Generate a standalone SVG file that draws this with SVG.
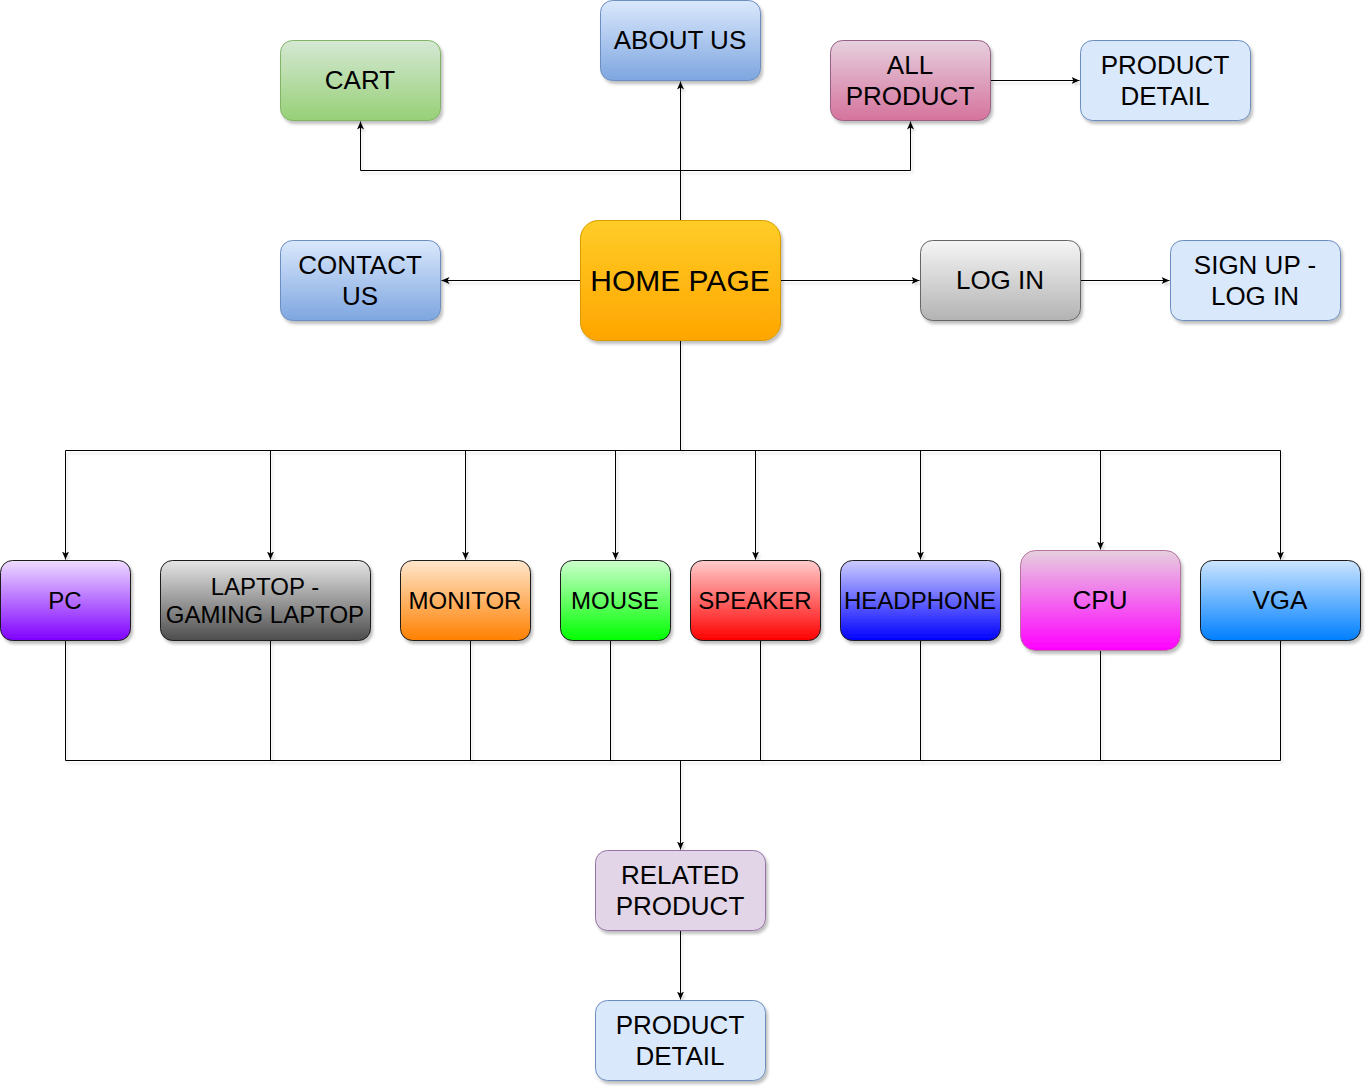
<svg xmlns="http://www.w3.org/2000/svg" width="1372" height="1092" viewBox="0 0 1372 1092">
<defs>
  <filter id="sh" x="-20%" y="-20%" width="140%" height="150%">
    <feDropShadow dx="2" dy="3" stdDeviation="1.6" flood-color="#000" flood-opacity="0.25"/>
  </filter>
  <filter id="lsh" x="-5%" y="-5%" width="110%" height="110%">
    <feDropShadow dx="2" dy="3" stdDeviation="1" flood-color="#000" flood-opacity="0.12"/>
  </filter>
  <marker id="arr" markerUnits="userSpaceOnUse" viewBox="0 0 8 8" markerWidth="8" markerHeight="8" refX="8" refY="4" orient="auto">
    <path d="M0,0.5 L8,4 L0,7.5 L2,4 Z" fill="#000"/>
  </marker>
  <linearGradient id="gGreen" x1="0" y1="0" x2="0" y2="1"><stop offset="0" stop-color="#d5e8d4"/><stop offset="1" stop-color="#97d077"/></linearGradient>
  <linearGradient id="gBlue" x1="0" y1="0" x2="0" y2="1"><stop offset="0" stop-color="#dae8fc"/><stop offset="1" stop-color="#7ea6e0"/></linearGradient>
  <linearGradient id="gPink" x1="0" y1="0" x2="0" y2="1"><stop offset="0" stop-color="#e6d0de"/><stop offset="1" stop-color="#d5739d"/></linearGradient>
  <linearGradient id="gOrange" x1="0" y1="0" x2="0" y2="1"><stop offset="0" stop-color="#ffcd28"/><stop offset="1" stop-color="#ffa500"/></linearGradient>
  <linearGradient id="gGray" x1="0" y1="0" x2="0" y2="1"><stop offset="0" stop-color="#f5f5f5"/><stop offset="1" stop-color="#b3b3b3"/></linearGradient>
  <linearGradient id="gPC" x1="0" y1="0" x2="0" y2="1"><stop offset="0" stop-color="#eedcff"/><stop offset="1" stop-color="#7f00ff"/></linearGradient>
  <linearGradient id="gLaptop" x1="0" y1="0" x2="0" y2="1"><stop offset="0" stop-color="#e6e6e6"/><stop offset="1" stop-color="#4d4d4d"/></linearGradient>
  <linearGradient id="gMonitor" x1="0" y1="0" x2="0" y2="1"><stop offset="0" stop-color="#ffe6cc"/><stop offset="1" stop-color="#ff8000"/></linearGradient>
  <linearGradient id="gMouse" x1="0" y1="0" x2="0" y2="1"><stop offset="0" stop-color="#ccffcc"/><stop offset="1" stop-color="#00ff00"/></linearGradient>
  <linearGradient id="gSpeaker" x1="0" y1="0" x2="0" y2="1"><stop offset="0" stop-color="#ffcccc"/><stop offset="1" stop-color="#ff0000"/></linearGradient>
  <linearGradient id="gHead" x1="0" y1="0" x2="0" y2="1"><stop offset="0" stop-color="#ccccff"/><stop offset="1" stop-color="#0000ff"/></linearGradient>
  <linearGradient id="gCPU" x1="0" y1="0" x2="0" y2="1"><stop offset="0" stop-color="#e6d0de"/><stop offset="1" stop-color="#ff00ff"/></linearGradient>
  <linearGradient id="gVGA" x1="0" y1="0" x2="0" y2="1"><stop offset="0" stop-color="#cce5ff"/><stop offset="1" stop-color="#007fff"/></linearGradient>
</defs>
<style>
  text { font-family: "Liberation Sans", Arial, sans-serif; fill: #000; text-anchor: middle; }
  .t26 { font-size: 26px; }
  .t24 { font-size: 24px; }
  .t30 { font-size: 30px; }
  .box { filter: url(#sh); stroke-width: 1; }
  .edge { fill: none; stroke: #000; stroke-width: 1; }
  .arrow { marker-end: url(#arr); }
</style>
<rect width="1372" height="1092" fill="#fff"/>

<g id="connectors" filter="url(#lsh)" transform="translate(0.5,0.5)">
  <path class="edge arrow" d="M680,220 V170 H360 V121"/>
  <path class="edge arrow" d="M680,220 V81"/>
  <path class="edge arrow" d="M680,170 H910 V121"/>
  <path class="edge arrow" d="M990,80 H1079"/>
  <path class="edge arrow" d="M580,280 H441"/>
  <path class="edge arrow" d="M780,280 H919"/>
  <path class="edge arrow" d="M1080,280 H1169"/>
  <path class="edge" d="M680,340 V450"/>
  <path class="edge" d="M65,450 H1280"/>
  <path class="edge arrow" d="M65,450 V559"/>
  <path class="edge arrow" d="M270,450 V559"/>
  <path class="edge arrow" d="M465,450 V559"/>
  <path class="edge arrow" d="M615,450 V559"/>
  <path class="edge arrow" d="M755,450 V559"/>
  <path class="edge arrow" d="M920,450 V559"/>
  <path class="edge arrow" d="M1100,450 V549"/>
  <path class="edge arrow" d="M1280,450 V559"/>
  <path class="edge" d="M65,640 V760 M270,640 V760 M470,640 V760 M610,640 V760 M760,640 V760 M920,640 V760 M1100,650 V760 M1280,640 V760"/>
  <path class="edge" d="M65,760 H1280"/>
  <path class="edge arrow" d="M680,760 V849"/>
  <path class="edge arrow" d="M680,930 V999"/>
</g>

<g id="cart">
  <rect class="box" x="280.5" y="40.5" width="160" height="80" rx="12" fill="url(#gGreen)" stroke="#82b366"/>
  <text class="t26" x="360" y="89">CART</text>
</g>
<g id="about-us">
  <rect class="box" x="600.5" y="0.5" width="160" height="80" rx="12" fill="url(#gBlue)" stroke="#6c8ebf"/>
  <text class="t26" x="680" y="49">ABOUT US</text>
</g>
<g id="all-product">
  <rect class="box" x="830.5" y="40.5" width="160" height="80" rx="12" fill="url(#gPink)" stroke="#996185"/>
  <text class="t26" x="910" y="74">ALL</text>
  <text class="t26" x="910" y="105">PRODUCT</text>
</g>
<g id="product-detail-top">
  <rect class="box" x="1080.5" y="40.5" width="170" height="80" rx="12" fill="#dae8fc" stroke="#6c8ebf"/>
  <text class="t26" x="1165" y="74">PRODUCT</text>
  <text class="t26" x="1165" y="105">DETAIL</text>
</g>
<g id="contact-us">
  <rect class="box" x="280.5" y="240.5" width="160" height="80" rx="12" fill="url(#gBlue)" stroke="#6c8ebf"/>
  <text class="t26" x="360" y="274">CONTACT</text>
  <text class="t26" x="360" y="305">US</text>
</g>
<g id="home-page">
  <rect class="box" x="580.5" y="220.5" width="200" height="120" rx="18" fill="url(#gOrange)" stroke="#d79b00"/>
  <text class="t30" x="680" y="291">HOME PAGE</text>
</g>
<g id="log-in">
  <rect class="box" x="920.5" y="240.5" width="160" height="80" rx="12" fill="url(#gGray)" stroke="#666666"/>
  <text class="t26" x="1000" y="289">LOG IN</text>
</g>
<g id="sign-up">
  <rect class="box" x="1170.5" y="240.5" width="170" height="80" rx="12" fill="#dae8fc" stroke="#6c8ebf"/>
  <text class="t26" x="1255" y="274">SIGN UP -</text>
  <text class="t26" x="1255" y="305">LOG IN</text>
</g>

<g id="pc">
  <rect class="box" x="0.5" y="560.5" width="130" height="80" rx="12" fill="url(#gPC)" stroke="#1a1a1a"/>
  <text class="t24" x="65" y="609">PC</text>
</g>
<g id="laptop">
  <rect class="box" x="160.5" y="560.5" width="210" height="80" rx="12" fill="url(#gLaptop)" stroke="#1a1a1a"/>
  <text class="t24" x="265" y="594.5">LAPTOP -</text>
  <text class="t24" x="265" y="623">GAMING LAPTOP</text>
</g>
<g id="monitor">
  <rect class="box" x="400.5" y="560.5" width="130" height="80" rx="12" fill="url(#gMonitor)" stroke="#1a1a1a"/>
  <text class="t24" x="465" y="609">MONITOR</text>
</g>
<g id="mouse">
  <rect class="box" x="560.5" y="560.5" width="110" height="80" rx="12" fill="url(#gMouse)" stroke="#1a1a1a"/>
  <text class="t24" x="615" y="609">MOUSE</text>
</g>
<g id="speaker">
  <rect class="box" x="690.5" y="560.5" width="130" height="80" rx="12" fill="url(#gSpeaker)" stroke="#1a1a1a"/>
  <text class="t24" x="755" y="609">SPEAKER</text>
</g>
<g id="headphone">
  <rect class="box" x="840.5" y="560.5" width="160" height="80" rx="12" fill="url(#gHead)" stroke="#1a1a1a"/>
  <text class="t24" x="920" y="609">HEADPHONE</text>
</g>
<g id="cpu">
  <rect class="box" x="1020.5" y="550.5" width="160" height="100" rx="15" fill="url(#gCPU)" stroke="#b5739d"/>
  <text class="t26" x="1100" y="609">CPU</text>
</g>
<g id="vga">
  <rect class="box" x="1200.5" y="560.5" width="160" height="80" rx="12" fill="url(#gVGA)" stroke="#1a1a1a"/>
  <text class="t26" x="1280" y="609">VGA</text>
</g>

<g id="related-product">
  <rect class="box" x="595.5" y="850.5" width="170" height="80" rx="12" fill="#e1d5e7" stroke="#9673a6"/>
  <text class="t26" x="680" y="884">RELATED</text>
  <text class="t26" x="680" y="915">PRODUCT</text>
</g>
<g id="product-detail-bottom">
  <rect class="box" x="595.5" y="1000.5" width="170" height="80" rx="12" fill="#dae8fc" stroke="#6c8ebf"/>
  <text class="t26" x="680" y="1034">PRODUCT</text>
  <text class="t26" x="680" y="1065">DETAIL</text>
</g>
</svg>
